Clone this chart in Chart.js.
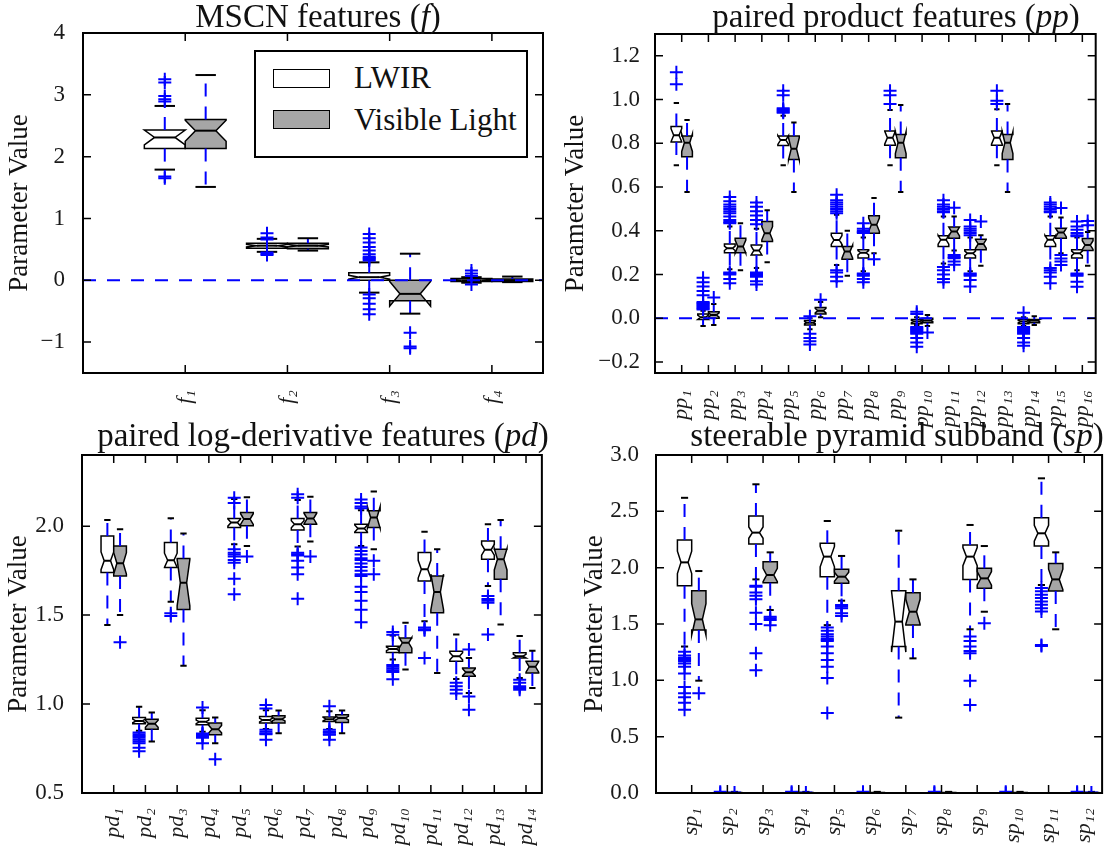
<!DOCTYPE html>
<html lang="en">
<head>
  <meta charset="UTF-8">
  <title>LWIR vs Visible Light feature distributions</title>
  <script src="https://cdn.jsdelivr.net/npm/chart.js"></script>
  <style>
    body {
      margin: 0;
      background: #fff;
      font-family: 'Liberation Serif', serif;
    }
    #wrap {
      position: relative;
      width: 1118px;
      height: 846px;
    }
    canvas {
      position: absolute;
    }
    .title {
      position: absolute;
      font-size: 33px;
      line-height: 33px;
      color: #111;
      white-space: nowrap;
      transform: translateX(-50%);
    }
    .legend {
      position: absolute;
      left: 254px;
      top: 50px;
      width: 270px;
      height: 104px;
      border: 2px solid #000;
      background: #fff;
    }
    .legend .patch {
      position: absolute;
      left: 17px;
      width: 55px;
      height: 17px;
      border: 1.5px solid #000;
    }
    .legend .lab {
      position: absolute;
      left: 98px;
      font-size: 31px;
      line-height: 34px;
      color: #111;
      white-space: nowrap;
    }
  </style>
</head>
<body>
  <div id="wrap">
    <canvas id="fChart" width="560" height="440" style="left:0;top:0"></canvas>
    <canvas id="ppChart" width="558" height="440" style="left:560px;top:0"></canvas>
    <canvas id="pdChart" width="560" height="426" style="left:0;top:420px"></canvas>
    <canvas id="spChart" width="558" height="426" style="left:560px;top:420px"></canvas>

    <div class="title" style="left:318px;top:0px">MSCN features (<i>f</i>)</div>
    <div class="title" style="left:896px;top:0px">paired product features (<i>pp</i>)</div>
    <div class="title" style="left:323px;top:419px">paired log-derivative features (<i>pd</i>)</div>
    <div class="title" style="left:897px;top:419px">steerable pyramid subband (<i>sp</i>)</div>

    <div class="legend">
      <div class="patch" style="top:17px;background:#fff"></div>
      <span class="lab" style="top:9px">LWIR</span>
      <div class="patch" style="top:58px;background:#a6a6a6"></div>
      <span class="lab" style="top:51px">Visible Light</span>
    </div>
  </div>

  <script>
    // box stats: [lower cap, q1, median, q3, upper cap, notch half-height]

    // ---- MSCN features (f)
    const fLabels = ['f₁', 'f₂', 'f₃', 'f₄'];
    const fYTicks = [-1, 0, 1, 2, 3, 4];
    const fLwir = [
      [1.79, 2.13, 2.31, 2.43, 2.82, 0.12],
      [0.46, 0.52, 0.56, 0.60, 0.67, 0.02],
      [-0.20, 0.00, 0.05, 0.12, 0.29, 0.03],
      [-0.04, -0.02, 0.00, 0.03, 0.05, 0.01]
    ];
    const fVis = [
      [1.51, 2.13, 2.42, 2.60, 3.32, 0.17],
      [0.48, 0.51, 0.56, 0.60, 0.68, 0.02],
      [-0.54, -0.33, -0.22, 0.00, 0.43, 0.20],
      [-0.03, -0.02, 0.00, 0.02, 0.06, 0.01]
    ];
    const fLwirOut = [
      [3.25, 3.20, 2.98, 2.93, 2.89, 1.68, 1.65],
      [0.76, 0.69, 0.66, 0.45, 0.43, 0.41],
      [0.75, 0.68, 0.61, 0.54, 0.48, 0.42, 0.38, 0.36, 0.34, 0.32, -0.23, -0.29, -0.38, -0.47, -0.55],
      [0.16, 0.11, 0.07, -0.07]
    ];
    const fVisOut = [[], [], [-0.85, -1.07, -1.10], []];

    // ---- paired product features (pp)
    const ppLabels = ['pp₁', 'pp₂', 'pp₃', 'pp₄', 'pp₅', 'pp₆', 'pp₇', 'pp₈',
      'pp₉', 'pp₁₀', 'pp₁₁', 'pp₁₂', 'pp₁₃', 'pp₁₄', 'pp₁₅', 'pp₁₆'];
    const ppYTicks = [-0.2, 0, 0.2, 0.4, 0.6, 0.8, 1.0, 1.2];
    const ppLwir = [
      [0.70, 0.806, 0.837, 0.877, 0.984, 0.03],
      [-0.035, -0.005, 0.005, 0.02, 0.035, 0.01],
      [0.224, 0.30, 0.32, 0.34, 0.42, 0.01],
      [0.23, 0.29, 0.31, 0.335, 0.41, 0.02],
      [0.70, 0.79, 0.815, 0.834, 0.926, 0.02],
      [-0.05, -0.03, -0.02, -0.01, 0.0, 0.005],
      [0.244, 0.328, 0.358, 0.389, 0.474, 0.02],
      [0.215, 0.276, 0.30, 0.313, 0.37, 0.01],
      [0.70, 0.791, 0.826, 0.857, 0.953, 0.03],
      [-0.03, -0.025, -0.015, -0.005, 0.005, 0.005],
      [0.251, 0.328, 0.359, 0.377, 0.466, 0.02],
      [0.215, 0.276, 0.297, 0.313, 0.37, 0.01],
      [0.70, 0.791, 0.826, 0.857, 0.956, 0.03],
      [-0.035, -0.025, -0.015, -0.005, 0.005, 0.005],
      [0.228, 0.328, 0.359, 0.377, 0.466, 0.02],
      [0.22, 0.276, 0.297, 0.313, 0.37, 0.01]
    ];
    const ppVis = [
      [0.578, 0.739, 0.803, 0.834, 0.907, 0.04],
      [-0.03, 0.0, 0.015, 0.03, 0.065, 0.01],
      [0.22, 0.30, 0.328, 0.366, 0.435, 0.03],
      [0.256, 0.351, 0.389, 0.443, 0.494, 0.03],
      [0.578, 0.726, 0.775, 0.834, 0.895, 0.05],
      [0.005, 0.02, 0.035, 0.05, 0.075, 0.01],
      [0.195, 0.27, 0.305, 0.328, 0.40, 0.03],
      [0.297, 0.389, 0.428, 0.469, 0.55, 0.03],
      [0.578, 0.734, 0.803, 0.841, 0.975, 0.05],
      [-0.035, -0.02, -0.01, 0.0, 0.015, 0.005],
      [0.31, 0.366, 0.397, 0.417, 0.466, 0.02],
      [0.24, 0.313, 0.34, 0.362, 0.38, 0.02],
      [0.578, 0.726, 0.803, 0.84, 0.98, 0.05],
      [-0.03, -0.02, -0.01, -0.005, 0.01, 0.005],
      [0.297, 0.366, 0.392, 0.412, 0.461, 0.02],
      [0.24, 0.31, 0.335, 0.365, 0.395, 0.02]
    ];
    const ppLwirOut = [
      [1.125, 1.07],
      [0.185, 0.165, 0.145, 0.125, 0.105, 0.075, 0.07, 0.065, 0.06, 0.055, 0.05, 0.045, 0.04],
      [0.555, 0.535, 0.52, 0.51, 0.50, 0.49, 0.48, 0.465, 0.45, 0.44, 0.435, 0.21, 0.205, 0.20, 0.18, 0.16],
      [0.53, 0.51, 0.49, 0.47, 0.45, 0.43, 0.21, 0.205, 0.20, 0.195, 0.19, 0.17, 0.155],
      [1.04, 1.02, 0.96, 0.955, 0.95, 0.945, 0.94],
      [0.01, -0.07, -0.09, -0.105, -0.12],
      [0.565, 0.54, 0.53, 0.52, 0.51, 0.50, 0.49, 0.48, 0.22, 0.21, 0.19, 0.17],
      [0.435, 0.41, 0.40, 0.395, 0.39, 0.205, 0.20, 0.195, 0.18, 0.165],
      [1.04, 1.02, 0.98],
      [0.03, 0.02, -0.04, -0.045, -0.05, -0.055, -0.06, -0.065, -0.07, -0.09, -0.11, -0.13],
      [0.54, 0.52, 0.51, 0.50, 0.49, 0.485, 0.235, 0.22, 0.20, 0.18, 0.165],
      [0.45, 0.42, 0.41, 0.40, 0.39, 0.38, 0.205, 0.20, 0.195, 0.175, 0.145],
      [1.04, 0.995, 0.98],
      [0.025, -0.04, -0.045, -0.05, -0.055, -0.06, -0.065, -0.07, -0.09, -0.11, -0.125],
      [0.53, 0.52, 0.51, 0.50, 0.49, 0.485, 0.23, 0.22, 0.21, 0.19, 0.16],
      [0.443, 0.42, 0.405, 0.39, 0.38, 0.375, 0.205, 0.20, 0.195, 0.167, 0.144]
    ];
    const ppVisOut = [
      [], [0.095], [], [], [], [0.085], [], [0.27],
      [], [-0.065], [0.505, 0.29, 0.28, 0.275, 0.26, 0.245], [0.443],
      [], [], [0.504, 0.29, 0.274, 0.26, 0.244], [0.445, 0.425]
    ];

    // ---- paired log-derivative features (pd)
    const pdLabels = ['pd₁', 'pd₂', 'pd₃', 'pd₄', 'pd₅', 'pd₆', 'pd₇',
      'pd₈', 'pd₉', 'pd₁₀', 'pd₁₁', 'pd₁₂', 'pd₁₃', 'pd₁₄'];
    const pdYTicks = [0.5, 1.0, 1.5, 2.0];
    const pdLwir = [
      [1.444, 1.739, 1.805, 1.945, 2.034, 0.05],
      [0.85, 0.889, 0.905, 0.925, 0.985, 0.01],
      [1.575, 1.767, 1.808, 1.908, 2.045, 0.04],
      [0.845, 0.883, 0.90, 0.92, 0.965, 0.01],
      [1.898, 1.992, 2.02, 2.043, 2.152, 0.02],
      [0.86, 0.893, 0.91, 0.93, 0.965, 0.01],
      [1.885, 1.979, 2.011, 2.043, 2.147, 0.02],
      [0.86, 0.902, 0.915, 0.927, 0.96, 0.01],
      [1.889, 1.964, 1.987, 2.011, 2.09, 0.02],
      [1.25, 1.29, 1.31, 1.325, 1.385, 0.01],
      [1.466, 1.692, 1.758, 1.852, 1.968, 0.05],
      [1.141, 1.241, 1.269, 1.297, 1.391, 0.02],
      [1.664, 1.814, 1.867, 1.917, 2.011, 0.03],
      [1.147, 1.259, 1.269, 1.288, 1.382, 0.01]
    ];
    const pdVis = [
      [1.50, 1.72, 1.791, 1.889, 1.983, 0.06],
      [0.789, 0.859, 0.889, 0.915, 0.953, 0.02],
      [1.216, 1.532, 1.682, 1.818, 1.959, 0.13],
      [0.78, 0.827, 0.859, 0.893, 0.925, 0.02],
      [1.889, 2.002, 2.04, 2.077, 2.162, 0.03],
      [0.836, 0.893, 0.915, 0.934, 0.964, 0.01],
      [1.914, 2.011, 2.043, 2.077, 2.165, 0.03],
      [0.836, 0.897, 0.921, 0.94, 0.964, 0.01],
      [1.87, 1.992, 2.049, 2.086, 2.195, 0.06],
      [1.194, 1.288, 1.344, 1.372, 1.457, 0.03],
      [1.175, 1.513, 1.63, 1.72, 1.87, 0.10],
      [1.062, 1.156, 1.179, 1.203, 1.259, 0.02],
      [1.447, 1.701, 1.814, 1.87, 2.034, 0.06],
      [1.09, 1.175, 1.209, 1.241, 1.30, 0.03]
    ];
    const pdLwirOut = [
      [],
      [0.84, 0.83, 0.82, 0.81, 0.80, 0.79, 0.78, 0.755, 0.735],
      [1.51, 1.495],
      [0.98, 0.835, 0.83, 0.82, 0.81, 0.78],
      [2.16, 2.13, 1.87, 1.85, 1.84, 1.83, 1.81, 1.795, 1.705, 1.617],
      [0.995, 0.975, 0.855, 0.845, 0.835, 0.83, 0.80],
      [2.18, 2.16, 1.85, 1.842, 1.835, 1.805, 1.767, 1.729, 1.592],
      [0.987, 0.855, 0.845, 0.84, 0.83, 0.827, 0.80],
      [2.15, 2.13, 2.11, 2.10, 1.88, 1.86, 1.84, 1.82, 1.81, 1.79, 1.77, 1.75, 1.73, 1.72, 1.66, 1.63, 1.58, 1.53, 1.46],
      [1.405, 1.39, 1.22, 1.21, 1.20, 1.19, 1.18, 1.14],
      [1.43, 1.42, 1.415, 1.259],
      [1.12, 1.10, 1.08, 1.06],
      [1.607, 1.59, 1.58, 1.57, 1.391],
      [1.137, 1.12, 1.10, 1.09, 1.081]
    ];
    const pdVisOut = [
      [1.348], [], [], [0.69], [1.829], [], [1.829],
      [], [1.805, 1.729], [], [], [1.306, 1.043, 0.968], [], []
    ];

    // ---- steerable pyramid subband (sp)
    const spLabels = ['sp₁', 'sp₂', 'sp₃', 'sp₄', 'sp₅', 'sp₆',
      'sp₇', 'sp₈', 'sp₉', 'sp₁₀', 'sp₁₁', 'sp₁₂'];
    const spYTicks = [0, 0.5, 1.0, 1.5, 2.0, 2.5, 3.0];
    const spLwir = [
      [1.30, 1.84, 2.047, 2.246, 2.62, 0.10],
      [0, 0, 0, 0.003, 0.006, 0.001],
      [1.896, 2.21, 2.311, 2.459, 2.74, 0.05],
      [0, 0, 0, 0.003, 0.006, 0.001],
      [1.49, 1.92, 2.098, 2.216, 2.414, 0.09],
      [0, 0, 0, 0.003, 0.006, 0.001],
      [0.669, 1.30, 1.521, 1.796, 2.328, 0.27],
      [0, 0, 0, 0.003, 0.006, 0.001],
      [1.453, 1.896, 2.098, 2.201, 2.379, 0.08],
      [0, 0, 0, 0.003, 0.006, 0.001],
      [1.846, 2.192, 2.305, 2.444, 2.793, 0.07],
      [0, 0, 0, 0.003, 0.006, 0.001]
    ];
    const spVis = [
      [0.997, 1.447, 1.541, 1.796, 1.97, 0.14],
      [0, 0, 0.002, 0.005, 0.01, 0.001],
      [1.624, 1.867, 1.935, 2.053, 2.136, 0.06],
      [0, 0, 0.002, 0.005, 0.01, 0.001],
      [1.707, 1.861, 1.92, 1.985, 2.104, 0.04],
      [0, 0, 0.002, 0.005, 0.01, 0.001],
      [1.195, 1.491, 1.609, 1.778, 1.896, 0.11],
      [0, 0, 0.002, 0.005, 0.01, 0.001],
      [1.609, 1.817, 1.905, 1.994, 2.192, 0.06],
      [0, 0, 0.002, 0.005, 0.01, 0.001],
      [1.453, 1.793, 1.896, 2.038, 2.136, 0.09],
      [0, 0, 0.002, 0.005, 0.01, 0.001]
    ];
    const spLwirOut = [
      [1.254, 1.22, 1.20, 1.19, 1.18, 1.17, 1.15, 1.12, 1.06, 0.94, 0.885, 0.85, 0.80, 0.74],
      [0.01, 0.0],
      [1.84, 1.83, 1.78, 1.75, 1.72, 1.60, 1.50, 1.24, 1.09],
      [0.01, 0.0],
      [1.47, 1.44, 1.41, 1.39, 1.37, 1.36, 1.35, 1.30, 1.24, 1.18, 1.12, 1.02, 0.71],
      [0.01, 0.0],
      [],
      [0.01, 0.0],
      [1.39, 1.35, 1.30, 1.26, 1.24, 0.997, 0.781],
      [0.01, 0.0],
      [1.82, 1.79, 1.76, 1.73, 1.70, 1.67, 1.64, 1.61, 1.314, 1.305],
      [0.01, 0.0]
    ];
    const spVisOut = [
      [0.885], [0.005], [1.565, 1.55, 1.535, 1.49], [0.005],
      [1.669, 1.655, 1.639, 1.595, 1.57], [], [], [],
      [1.506], [], [], [0.005]
    ];

    const BLUE = '#0000ff';
    const VIS_GRAY = '#a6a6a6';
    const FONT = "'Liberation Serif', serif";

    // notched boxes, whiskers, caps and medians, placed through the chart scales
    function boxPlugin(series) {
      return {
        id: 'boxes',
        beforeDatasetsDraw(chart) {
          const {ctx, chartArea: a, scales: {x, y}} = chart;
          const Y = v => y.getPixelForValue(v);
          const X = v => x.getPixelForValue(v);
          const seg = (x1, y1, x2, y2) => { ctx.beginPath(); ctx.moveTo(x1, y1); ctx.lineTo(x2, y2); ctx.stroke(); };
          ctx.save();
          ctx.beginPath();
          ctx.rect(a.left, a.top, a.right - a.left, a.bottom - a.top);
          ctx.clip();

          // box patches first
          series.forEach(s => s.stats.forEach((st, i) => {
            const [lo, q1, med, q3, hi, nh] = st;
            const c = i + 1 + s.offset;
            const xl = X(c - 0.2), xr = X(c + 0.2), nl = X(c - 0.1), nr = X(c + 0.1);
            ctx.beginPath();
            ctx.moveTo(xl, Y(q1));
            ctx.lineTo(xr, Y(q1));
            ctx.lineTo(xr, Y(med - nh));
            ctx.lineTo(nr, Y(med));
            ctx.lineTo(xr, Y(med + nh));
            ctx.lineTo(xr, Y(q3));
            ctx.lineTo(xl, Y(q3));
            ctx.lineTo(xl, Y(med + nh));
            ctx.lineTo(nl, Y(med));
            ctx.lineTo(xl, Y(med - nh));
            ctx.closePath();
            ctx.fillStyle = s.fill;
            ctx.fill();
            ctx.strokeStyle = '#000';
            ctx.lineWidth = 1.5;
            ctx.stroke();
          }));

          // then whiskers, caps, medians
          series.forEach(s => s.stats.forEach((st, i) => {
            const [lo, q1, med, q3, hi] = st;
            const c = i + 1 + s.offset;
            const xc = X(c), nl = X(c - 0.1), nr = X(c + 0.1);
            ctx.strokeStyle = BLUE;
            ctx.lineWidth = 2;
            ctx.setLineDash([13, 10]);
            seg(xc, Y(q3), xc, Y(hi));
            seg(xc, Y(q1), xc, Y(lo));
            ctx.setLineDash([]);
            ctx.strokeStyle = '#000';
            seg(nl, Y(hi), nr, Y(hi));
            seg(nl, Y(lo), nr, Y(lo));
            seg(nl, Y(med), nr, Y(med));
          }));
          ctx.restore();
        }
      };
    }

    // frame with inward ticks on all four sides
    const framePlugin = {
      id: 'frame',
      afterDraw(chart) {
        const {ctx, chartArea: a, scales: {x, y}} = chart;
        ctx.save();
        ctx.strokeStyle = '#000';
        ctx.lineWidth = 1.5;
        ctx.beginPath();
        x.ticks.forEach(t => {
          const px = x.getPixelForValue(t.value);
          ctx.moveTo(px, a.bottom); ctx.lineTo(px, a.bottom - 8);
          ctx.moveTo(px, a.top); ctx.lineTo(px, a.top + 8);
        });
        y.ticks.forEach(t => {
          const py = y.getPixelForValue(t.value);
          ctx.moveTo(a.left, py); ctx.lineTo(a.left + 8, py);
          ctx.moveTo(a.right, py); ctx.lineTo(a.right - 8, py);
        });
        ctx.stroke();
        ctx.lineWidth = 2;
        ctx.strokeRect(a.left, a.top, a.right - a.left, a.bottom - a.top);
        ctx.restore();
      }
    };

    const outlierSet = (out, offset) => ({
      data: out.flatMap((vals, i) => vals.map(v => ({x: i + 1 + offset, y: v}))),
      pointStyle: 'cross',
      pointRadius: 6.5,
      borderColor: BLUE,
      borderWidth: 2,
      clip: 0
    });

    function makePanel(id, p) {
      const n = p.labels.length;
      const datasets = [outlierSet(p.lwirOut, -0.2), outlierSet(p.visOut, 0.2)];
      if (p.zeroLine) {
        datasets.push({
          data: [{x: 0, y: 0}, {x: n + 0.5, y: 0}],
          showLine: true,
          pointRadius: 0,
          borderColor: BLUE,
          borderWidth: 2,
          borderDash: [13, 11],
          clip: 0
        });
      }
      const fmt = v => (p.dec ? v.toFixed(p.dec) : String(v)).replace('-', '\u2212');

      return new Chart(document.getElementById(id), {
        type: 'scatter',
        data: {datasets},
        options: {
          responsive: false,
          animation: false,
          events: [],
          layout: {padding: {top: p.top, right: p.right, left: 0, bottom: 0}},
          plugins: {legend: {display: false}, tooltip: {enabled: false}},
          scales: {
            x: {
              type: 'linear',
              min: 0,
              max: n + 0.5,
              grid: {display: false},
              border: {display: false},
              afterBuildTicks: s => { s.ticks = p.labels.map((_, i) => ({value: i + 1})); },
              afterFit: s => { s.height = p.xHeight; },
              ticks: {
                autoSkip: false,
                minRotation: 90,
                maxRotation: 90,
                padding: p.xPad,
                color: '#1a1a1a',
                font: {family: FONT, style: 'italic', size: 22},
                callback: v => p.labels[Math.round(v) - 1] || ''
              }
            },
            y: {
              min: p.yMin,
              max: p.yMax,
              grid: {display: false},
              border: {display: false},
              afterBuildTicks: s => { s.ticks = p.yTicks.map(v => ({value: v})); },
              afterFit: s => { s.width = p.left; },
              ticks: {
                padding: p.yPad,
                color: '#1a1a1a',
                font: {family: FONT, size: 23},
                callback: v => fmt(v)
              },
              title: {
                display: true,
                text: 'Parameter Value',
                color: '#111',
                font: {family: FONT, size: 27},
                padding: {top: p.titlePad, bottom: 0}
              }
            }
          }
        },
        plugins: [boxPlugin([
          {stats: p.lwir, offset: -0.2, fill: '#ffffff'},
          {stats: p.vis, offset: 0.2, fill: VIS_GRAY}
        ]), framePlugin]
      });
    }

    makePanel('fChart', {
      labels: fLabels, yTicks: fYTicks, lwir: fLwir, vis: fVis, lwirOut: fLwirOut, visOut: fVisOut,
      yMin: -1.5, yMax: 4, dec: 0, zeroLine: true,
      left: 83, top: 33, right: 17, xHeight: 67, xPad: 9, yPad: 10, titlePad: 3.5
    });
    makePanel('ppChart', {
      labels: ppLabels, yTicks: ppYTicks, lwir: ppLwir, vis: ppVis, lwirOut: ppLwirOut, visOut: ppVisOut,
      yMin: -0.25, yMax: 1.3, dec: 1, zeroLine: true,
      left: 95, top: 34, right: 2, xHeight: 67, xPad: 9, yPad: 7, titlePad: 0
    });
    makePanel('pdChart', {
      labels: pdLabels, yTicks: pdYTicks, lwir: pdLwir, vis: pdVis, lwirOut: pdLwirOut, visOut: pdVisOut,
      yMin: 0.5, yMax: 2.4, dec: 1, zeroLine: false,
      left: 82, top: 35, right: 17, xHeight: 53, xPad: 7, yPad: 10, titlePad: 3
    });
    makePanel('spChart', {
      labels: spLabels, yTicks: spYTicks, lwir: spLwir, vis: spVis, lwirOut: spLwirOut, visOut: spVisOut,
      yMin: 0, yMax: 3, dec: 1, zeroLine: false,
      left: 96, top: 35, right: 3, xHeight: 53, xPad: 7, yPad: 9, titlePad: 19
    });
  </script>
</body>
</html>
